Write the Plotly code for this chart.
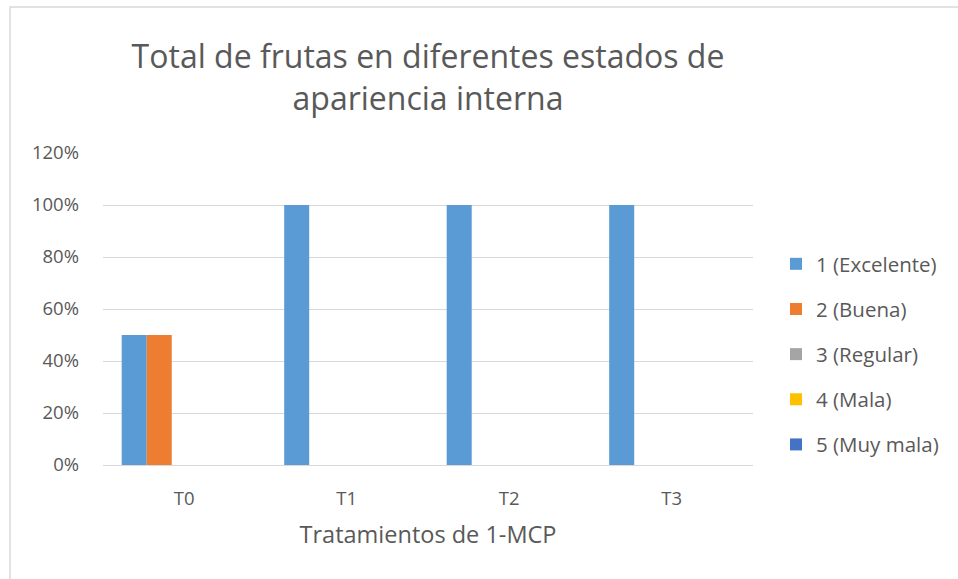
import plotly.graph_objects as go

categories = ["T0", "T1", "T2", "T3"]
series_names = ["1 (Excelente)", "2 (Buena)", "3 (Regular)", "4 (Mala)", "5 (Muy mala)"]
excelente = [0.50, 1.00, 1.00, 1.00]
buena = [0.50, 0.00, 0.00, 0.00]
regular = [0.00, 0.00, 0.00, 0.00]
mala = [0.00, 0.00, 0.00, 0.00]
muy_mala = [0.00, 0.00, 0.00, 0.00]
y_ticks = [0, 0.2, 0.4, 0.6, 0.8, 1.0, 1.2]

colors = ["#5B9BD5", "#ED7D31", "#A5A5A5", "#FFC000", "#4472C4"]
series_values = [excelente, buena, regular, mala, muy_mala]

FONT = "Open Sans"
GREY = "#595959"

fig = go.Figure()
for name, vals, col in zip(series_names, series_values, colors):
    fig.add_trace(go.Bar(x=categories, y=vals, name=name, marker=dict(color=col, line=dict(width=0)),
                         legendgroup=name))

W, H = 958, 579
L, R, T, B = 103, 753, 153, 465
pw, ph = R - L, B - T

def px2paper_x(x):
    return (x - L) / pw

def px2paper_y(y):
    return (B - y) / ph

fig.update_layout(
    width=W, height=H,
    margin=dict(l=L, r=W - R, t=T, b=H - B, pad=0, autoexpand=False),
    paper_bgcolor="white", plot_bgcolor="white",
    barmode="group", bargap=0.23, bargroupgap=0,
    font=dict(family=FONT, color=GREY, size=18),
    title=dict(text="Total de frutas en diferentes estados de<br>apariencia interna",
               x=0.5, xref="paper", xanchor="center", y=1 - 68 / H, yanchor="middle",
               font=dict(family=FONT, size=32, color=GREY)),
    legend=dict(x=px2paper_x(776), xanchor="left", y=px2paper_y(244), yanchor="top",
                font=dict(family=FONT, size=20.5, color=GREY), tracegroupgap=15.5,
                itemwidth=30, bgcolor="rgba(0,0,0,0)"),
    xaxis=dict(showline=True, linecolor="#D9D9D9", linewidth=1, showgrid=False,
               tickfont=dict(size=18.5, color=GREY), ticks="", ticklabelstandoff=17,
               title=dict(text="Tratamientos de 1-MCP", font=dict(size=23.5, color=GREY), standoff=17)),
    yaxis=dict(range=[0, 1.2], tickvals=y_ticks, tickformat=".0%", showgrid=True,
               gridcolor="#D9D9D9", gridwidth=1, zeroline=False, showline=False,
               tickfont=dict(size=18.5, color=GREY), ticks="", ticklabelstandoff=23),
    shapes=[dict(type="rect", xref="paper", yref="paper",
                 x0=px2paper_x(10), x1=px2paper_x(1000), y0=px2paper_y(1000), y1=px2paper_y(7),
                 line=dict(color="#D9D9D9", width=1.5), fillcolor="rgba(0,0,0,0)", layer="below")],
)

fig.write_html("out.html", post_script="document.body.style.margin='0';",
               config={"displayModeBar": False})
